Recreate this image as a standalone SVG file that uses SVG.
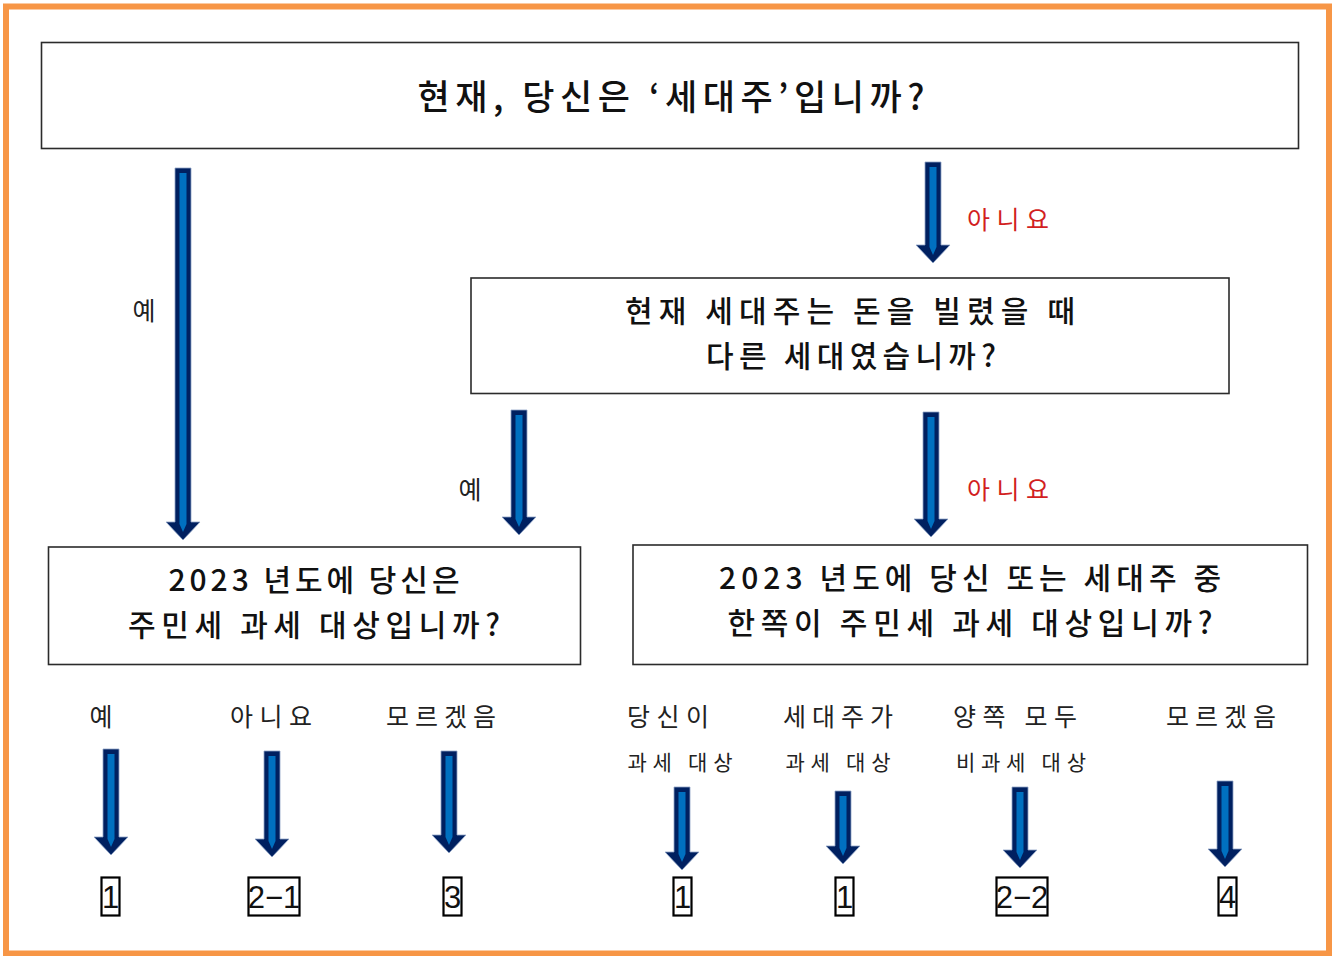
<svg xmlns="http://www.w3.org/2000/svg" width="1333" height="956" viewBox="0 0 1333 956">
<style>
.box{fill:#fff;stroke:#2b2b2b;stroke-width:1.6}
.rbox{fill:none;stroke:#000;stroke-width:2.2}
.t{font-family:"Noto Sans CJK KR","Noto Sans",sans-serif;fill:#111;text-anchor:middle}
.q{font-size:30px;font-weight:500}
.lab{font-size:25px;fill:#222}
.sub{font-size:21px;fill:#222}
.red{font-size:25px;fill:#d21f1f}
.num{font-family:"Liberation Sans","DejaVu Sans",sans-serif;font-size:31px;fill:#111;text-anchor:middle}
.ao{fill:#002060;stroke:#8fa3c6;stroke-width:0.8}
.ai{fill:#0070c0}
</style>
<rect x="0" y="0" width="1333" height="956" fill="#fff"/>
<rect x="6" y="6.5" width="1323" height="947" fill="none" stroke="#f79646" stroke-width="6"/>

<g id="connectors">
<path class="ao" d="M175,168H191V522H200L183,540L166,522H175Z"/><path class="ai" d="M179.5,173H186.5V524L183,532L179.5,524Z"/>
<path class="ao" d="M925,162H941V245H950L933,263L916,245H925Z"/><path class="ai" d="M929.5,167H936.5V247L933,255L929.5,247Z"/>
<path class="ao" d="M511,410H527V517H536L519,535L502,517H511Z"/><path class="ai" d="M515.5,415H522.5V519L519,527L515.5,519Z"/>
<path class="ao" d="M923,412H939V519H948L931,537L914,519H923Z"/><path class="ai" d="M927.5,417H934.5V521L931,529L927.5,521Z"/>
<path class="ao" d="M103,749H119V837H128L111,855L94,837H103Z"/><path class="ai" d="M107.5,754H114.5V839L111,847L107.5,839Z"/>
<path class="ao" d="M264,751H280V839H289L272,857L255,839H264Z"/><path class="ai" d="M268.5,756H275.5V841L272,849L268.5,841Z"/>
<path class="ao" d="M441,751H457V835H466L449,853L432,835H441Z"/><path class="ai" d="M445.5,756H452.5V837L449,845L445.5,837Z"/>
<path class="ao" d="M674,787H690V852H699L682,870L665,852H674Z"/><path class="ai" d="M678.5,792H685.5V854L682,862L678.5,854Z"/>
<path class="ao" d="M835,791H851V846H860L843,864L826,846H835Z"/><path class="ai" d="M839.5,796H846.5V848L843,856L839.5,848Z"/>
<path class="ao" d="M1012,787H1028V850H1037L1020,868L1003,850H1012Z"/><path class="ai" d="M1016.5,792H1023.5V852L1020,860L1016.5,852Z"/>
<path class="ao" d="M1217,781H1233V849H1242L1225,867L1208,849H1217Z"/><path class="ai" d="M1221.5,786H1228.5V851L1225,859L1221.5,851Z"/>
<text class="t lab" x="144" y="320">예</text>
<text class="t red" x="1008" y="229" textLength="82" lengthAdjust="spacing">아니요</text>
<text class="t lab" x="470" y="499">예</text>
<text class="t red" x="1008" y="499" textLength="82" lengthAdjust="spacing">아니요</text>
</g>

<g id="node-q1">
<rect class="box" x="41.5" y="42.5" width="1257" height="106"/>
<text class="t q" x="671" y="110" font-size="35" textLength="507" lengthAdjust="spacing" style="font-size:35px">현재, 당신은 ‘세대주’입니까?</text>
</g>

<g id="node-q2">
<rect class="box" x="471" y="278" width="758" height="115.5"/>
<text class="t q" x="850" y="322" textLength="450" lengthAdjust="spacing">현재 세대주는 돈을 빌렸을 때</text>
<text class="t q" x="851" y="367" textLength="290" lengthAdjust="spacing">다른 세대였습니까?</text>
</g>

<g id="node-q3">
<rect class="box" x="48.5" y="547" width="532" height="117.5"/>
<text class="t q" x="314" y="591" textLength="291" lengthAdjust="spacing">2023 년도에 당신은</text>
<text class="t q" x="314" y="636" textLength="372" lengthAdjust="spacing">주민세 과세 대상입니까?</text>
</g>

<g id="node-q4">
<rect class="box" x="633" y="545" width="674.5" height="119.5"/>
<text class="t q" x="970" y="589" textLength="502" lengthAdjust="spacing">2023 년도에 당신 또는 세대주 중</text>
<text class="t q" x="970" y="634" textLength="485" lengthAdjust="spacing">한쪽이 주민세 과세 대상입니까?</text>
</g>

<g id="answers">
<text class="t lab" x="101" y="726">예</text>
<text class="t lab" x="271" y="726" textLength="82" lengthAdjust="spacing">아니요</text>
<text class="t lab" x="441" y="726" textLength="110" lengthAdjust="spacing">모르겠음</text>
<text class="t lab" x="668" y="726" textLength="82" lengthAdjust="spacing">당신이</text>
<text class="t lab" x="838" y="726" textLength="110" lengthAdjust="spacing">세대주가</text>
<text class="t lab" x="1015" y="726" textLength="124" lengthAdjust="spacing">양쪽 모두</text>
<text class="t lab" x="1221" y="726" textLength="110" lengthAdjust="spacing">모르겠음</text>
<text class="t sub" x="680" y="770" textLength="105" lengthAdjust="spacing">과세 대상</text>
<text class="t sub" x="838" y="770" textLength="105" lengthAdjust="spacing">과세 대상</text>
<text class="t sub" x="1021" y="770" textLength="130" lengthAdjust="spacing">비과세 대상</text>
</g>

<g id="result-1a"><rect class="rbox" x="101.5" y="877.5" width="18" height="38"/><text class="num" x="110.5" y="908">1</text></g>
<g id="result-2-1"><rect class="rbox" x="248.5" y="877.5" width="51" height="38"/><text class="num" x="274" y="908">2−1</text></g>
<g id="result-3"><rect class="rbox" x="443.5" y="877.5" width="18" height="38"/><text class="num" x="452.5" y="908">3</text></g>
<g id="result-1b"><rect class="rbox" x="673.5" y="877.5" width="18" height="38"/><text class="num" x="682.5" y="908">1</text></g>
<g id="result-1c"><rect class="rbox" x="835.5" y="877.5" width="18" height="38"/><text class="num" x="844.5" y="908">1</text></g>
<g id="result-2-2"><rect class="rbox" x="996.5" y="877.5" width="51" height="38"/><text class="num" x="1022" y="908">2−2</text></g>
<g id="result-4"><rect class="rbox" x="1218.5" y="877.5" width="18" height="38"/><text class="num" x="1227.5" y="908">4</text></g>
</svg>
